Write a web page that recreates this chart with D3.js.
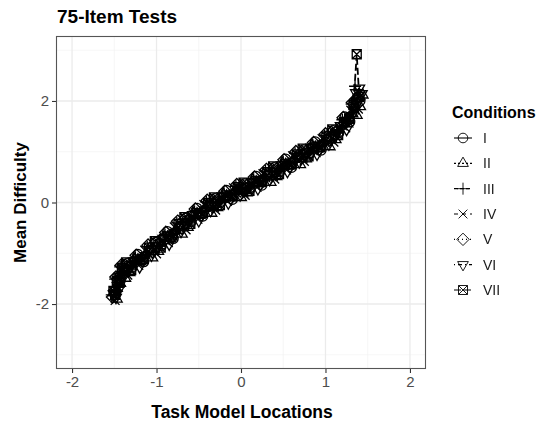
<!DOCTYPE html>
<html>
<head>
<meta charset="utf-8">
<script src="https://cdn.jsdelivr.net/npm/d3@7"></script>
<style>
  html, body { margin: 0; padding: 0; background: #fff; }
  svg { display: block; font-family: "Liberation Sans", Arial, Helvetica, sans-serif; }
  .key-label { filter: grayscale(100%); }
</style>
</head>
<body>
<svg id="chart" width="536" height="423"></svg>
<script>
// Task model locations for each condition
const locI = [-1.50,-1.48,-1.46,-1.43,-1.40,-1.35,-1.29,-1.22,-1.15,-1.08,
  -1.01,-0.94,-0.87,-0.80,-0.73,-0.66,-0.59,-0.52,-0.45,-0.38,
  -0.31,-0.24,-0.17,-0.10,-0.03,0.04,0.11,0.18,0.25,0.32,
  0.39,0.46,0.53,0.60,0.67,0.74,0.81,0.88,0.95,1.02,
  1.09,1.16,1.23,1.29,1.34,1.38,1.41];
const locII = [-1.47,-1.45,-1.43,-1.40,-1.37,-1.32,-1.26,-1.19,-1.12,-1.05,
  -0.98,-0.91,-0.84,-0.77,-0.70,-0.63,-0.56,-0.49,-0.42,-0.35,
  -0.28,-0.21,-0.14,-0.07,0.00,0.07,0.14,0.21,0.28,0.35,
  0.42,0.49,0.56,0.63,0.70,0.77,0.84,0.91,0.98,1.05,
  1.12,1.19,1.26,1.32,1.37,1.41,1.44];
const locIII = [-1.53,-1.51,-1.49,-1.46,-1.43,-1.38,-1.32,-1.25,-1.18,-1.11,
  -1.04,-0.97,-0.90,-0.83,-0.76,-0.69,-0.62,-0.55,-0.48,-0.41,
  -0.34,-0.27,-0.20,-0.13,-0.06,0.01,0.08,0.15,0.22,0.29,
  0.36,0.43,0.50,0.57,0.64,0.71,0.78,0.85,0.92,0.99,
  1.06,1.13,1.20,1.26,1.31,1.35,1.38];
const locIV = [-1.49,-1.47,-1.45,-1.42,-1.39,-1.34,-1.28,-1.21,-1.14,-1.07,
  -1.00,-0.93,-0.86,-0.79,-0.72,-0.65,-0.58,-0.51,-0.44,-0.37,
  -0.30,-0.23,-0.16,-0.09,-0.02,0.05,0.12,0.19,0.26,0.33,
  0.40,0.47,0.54,0.61,0.68,0.75,0.82,0.89,0.96,1.03,
  1.10,1.17,1.24,1.30,1.35,1.39,1.42];
const locV = [-1.52,-1.50,-1.48,-1.45,-1.42,-1.37,-1.31,-1.24,-1.17,-1.10,
  -1.03,-0.96,-0.89,-0.82,-0.75,-0.68,-0.61,-0.54,-0.47,-0.40,
  -0.33,-0.26,-0.19,-0.12,-0.05,0.02,0.09,0.16,0.23,0.30,
  0.37,0.44,0.51,0.58,0.65,0.72,0.79,0.86,0.93,1.00,
  1.07,1.14,1.21,1.27,1.32,1.36,1.39];
const locVI = [-1.48,-1.46,-1.44,-1.41,-1.38,-1.33,-1.27,-1.20,-1.13,-1.06,
  -0.99,-0.92,-0.85,-0.78,-0.71,-0.64,-0.57,-0.50,-0.43,-0.36,
  -0.29,-0.22,-0.15,-0.08,-0.01,0.06,0.13,0.20,0.27,0.34,
  0.41,0.48,0.55,0.62,0.69,0.76,0.83,0.90,0.97,1.04,
  1.11,1.18,1.25,1.31,1.36,1.40,1.43];
const locVII = [-1.51,-1.49,-1.47,-1.44,-1.41,-1.36,-1.30,-1.23,-1.16,-1.09,
  -1.02,-0.95,-0.88,-0.81,-0.74,-0.67,-0.60,-0.53,-0.46,-0.39,
  -0.32,-0.25,-0.18,-0.11,-0.04,0.03,0.10,0.17,0.24,0.31,
  0.38,0.45,0.52,0.59,0.66,0.73,0.80,0.87,0.94,1.01,
  1.08,1.15,1.22,1.28,1.33,1.37,1.40];

// Mean difficulty per condition at each of its locations
const meanI = [-1.76,-1.78,-1.45,-1.55,-1.34,-1.20,-1.29,-1.02,-1.17,-0.94,
  -0.78,-0.85,-0.57,-0.71,-0.47,-0.31,-0.38,-0.11,-0.27,-0.06,
  0.08,-0.01,0.24,0.06,0.25,0.37,0.27,0.52,0.34,0.55,
  0.69,0.60,0.86,0.69,0.90,1.04,0.95,1.20,1.03,1.25,
  1.42,1.37,1.69,1.59,1.87,2.07,2.00];
const meanII = [-1.90,-1.61,-1.59,-1.39,-1.49,-1.38,-1.12,-1.16,-1.01,-1.09,
  -0.96,-0.68,-0.71,-0.55,-0.62,-0.49,-0.21,-0.25,-0.11,-0.21,
  -0.10,0.16,0.10,0.22,0.10,0.19,0.44,0.38,0.50,0.40,
  0.51,0.77,0.72,0.85,0.75,0.86,1.12,1.06,1.19,1.10,
  1.24,1.54,1.55,1.75,1.72,1.89,2.12];
const meanIII = [-1.82,-1.84,-1.51,-1.48,-1.27,-1.28,-1.35,-1.08,-1.10,-0.87,
  -0.86,-0.91,-0.63,-0.64,-0.40,-0.39,-0.44,-0.17,-0.20,0.01,
  0.00,-0.07,0.18,0.13,0.32,0.29,0.21,0.46,0.41,0.62,
  0.61,0.54,0.80,0.76,0.97,0.96,0.89,1.14,1.10,1.32,
  1.34,1.31,1.63,1.66,1.94,2.29,1.99];
const meanIV = [-1.93,-1.68,-1.67,-1.32,-1.39,-1.43,-1.19,-1.24,-0.94,-0.99,
  -1.01,-0.75,-0.79,-0.48,-0.52,-0.54,-0.28,-0.33,-0.04,-0.11,
  -0.15,0.09,0.02,0.29,0.20,0.14,0.37,0.30,0.57,0.50,
  0.46,0.70,0.64,0.92,0.85,0.81,1.05,0.98,1.26,1.20,
  1.19,1.47,1.47,1.82,1.82,1.84,2.10];
const meanV = [-1.86,-1.74,-1.47,-1.52,-1.24,-1.24,-1.25,-1.04,-1.14,-0.84,
  -0.82,-0.81,-0.59,-0.68,-0.37,-0.35,-0.34,-0.13,-0.24,0.04,
  0.04,0.03,0.22,0.09,0.35,0.33,0.31,0.50,0.37,0.65,
  0.65,0.64,0.84,0.72,1.00,1.00,0.99,1.18,1.06,1.35,
  1.38,1.41,1.67,1.62,1.97,2.03,2.04];
const meanVI = [-1.87,-1.64,-1.70,-1.43,-1.44,-1.33,-1.15,-1.27,-1.05,-1.04,
  -0.91,-0.71,-0.82,-0.59,-0.57,-0.44,-0.24,-0.36,-0.15,-0.16,
  -0.05,0.13,-0.01,0.18,0.15,0.24,0.41,0.27,0.46,0.45,
  0.56,0.74,0.61,0.81,0.80,0.91,1.09,0.95,1.15,1.15,
  1.29,1.51,1.44,1.71,2.16,2.25,2.14];
const meanVII = [-1.74,-1.82,-1.55,-1.49,-1.29,-1.18,-1.33,-1.12,-1.11,-0.89,
  -0.76,-0.89,-0.67,-0.65,-0.42,-0.29,-0.42,-0.21,-0.21,-0.01,
  0.10,-0.05,0.14,0.12,0.30,0.39,0.23,0.42,0.40,0.60,
  0.71,0.56,0.76,0.75,0.95,1.06,0.91,1.10,1.09,1.30,
  1.44,1.33,1.59,1.65,1.92,2.92,2.08];

const conditions = ["I", "II", "III", "IV", "V", "VI", "VII"];
const seriesLocations = [locI, locII, locIII, locIV, locV, locVI, locVII];
const seriesValues = [meanI, meanII, meanIII, meanIV, meanV, meanVI, meanVII];

const xTicks = [-2, -1, 0, 1, 2];
const yTicks = [-2, 0, 2];
const xMinor = [-1.5, -0.5, 0.5, 1.5];
const yMinor = [-3, -1, 1, 3];

// Per-condition styling: open symbols and line dash patterns
const shapeNames = ["circle", "triangle", "plus", "cross", "diamond", "triangleDown", "squareCross"];
const dashes = [null, "2,2", "4,2", "4,4", "1,3", "1,3,4,3", "7,3"];

function symbolPath(name) {
  switch (name) {
    case "circle": {
      const r = 4.8;
      return `M${r},0A${r},${r},0,1,1,${-r},0A${r},${r},0,1,1,${r},0Z`;
    }
    case "triangle": {
      const r = 6.2;
      return `M0,${-r}L${r*0.866},${r*0.5}L${-r*0.866},${r*0.5}Z`;
    }
    case "triangleDown": {
      const r = 6.2;
      return `M0,${r}L${r*0.866},${-r*0.5}L${-r*0.866},${-r*0.5}Z`;
    }
    case "plus": {
      const s = 6;
      return `M${-s},0L${s},0M0,${-s}L0,${s}`;
    }
    case "cross": {
      const s = 4.4;
      return `M${-s},${-s}L${s},${s}M${-s},${s}L${s},${-s}`;
    }
    case "diamond": {
      const s = 6.2;
      return `M0,${-s}L${s},0L0,${s}L${-s},0Z`;
    }
    case "squareCross": {
      const s = 4.5;
      return `M${-s},${-s}L${s},${-s}L${s},${s}L${-s},${s}Z` +
             `M${-s},${-s}L${s},${s}M${-s},${s}L${s},${-s}`;
    }
  }
}

const svg = d3.select("#chart");
const panel = { left: 56, right: 426, top: 36, bottom: 369 };

const x = d3.scaleLinear().domain([-2.19, 2.19]).range([panel.left, panel.right]);
const y = d3.scaleLinear().domain([-3.28, 3.28]).range([panel.bottom, panel.top]);

// Panel background and grid
svg.append("rect").attr("x", panel.left).attr("y", panel.top)
  .attr("width", panel.right - panel.left).attr("height", panel.bottom - panel.top)
  .attr("fill", "#fff");

const grid = svg.append("g");
grid.selectAll(".xminor").data(xMinor).join("line")
  .attr("x1", d => x(d)).attr("x2", d => x(d))
  .attr("y1", panel.top).attr("y2", panel.bottom)
  .attr("stroke", "#f2f2f2").attr("stroke-width", 0.7);
grid.selectAll(".yminor").data(yMinor).join("line")
  .attr("y1", d => y(d)).attr("y2", d => y(d))
  .attr("x1", panel.left).attr("x2", panel.right)
  .attr("stroke", "#f2f2f2").attr("stroke-width", 0.7);
grid.selectAll(".xmajor").data(xTicks).join("line")
  .attr("x1", d => x(d)).attr("x2", d => x(d))
  .attr("y1", panel.top).attr("y2", panel.bottom)
  .attr("stroke", "#ebebeb").attr("stroke-width", 1.3);
grid.selectAll(".ymajor").data(yTicks).join("line")
  .attr("y1", d => y(d)).attr("y2", d => y(d))
  .attr("x1", panel.left).attr("x2", panel.right)
  .attr("stroke", "#ebebeb").attr("stroke-width", 1.3);

// Series
const series = conditions.map((c, i) => ({
  name: c,
  shape: shapeNames[i],
  dash: dashes[i],
  points: seriesLocations[i].map((loc, j) => ({ x: loc, y: seriesValues[i][j] }))
}));

const line = d3.line().x(d => x(d.x)).y(d => y(d.y));
const plot = svg.append("g");

plot.selectAll(".series-line").data(series).join("path")
  .attr("d", d => line(d.points))
  .attr("fill", "none").attr("stroke", "#000").attr("stroke-width", 1.8)
  .attr("stroke-dasharray", d => d.dash);

series.forEach(s => {
  plot.append("g").selectAll("path").data(s.points).join("path")
    .attr("transform", d => `translate(${x(d.x)},${y(d.y)})`)
    .attr("d", symbolPath(s.shape))
    .attr("fill", "none").attr("stroke", "#000").attr("stroke-width", 1.3);
});

// Panel border
svg.append("rect").attr("x", panel.left + 0.5).attr("y", panel.top + 0.5)
  .attr("width", panel.right - panel.left - 1).attr("height", panel.bottom - panel.top - 1)
  .attr("fill", "none").attr("stroke", "#555").attr("stroke-width", 1.1);

// Axes
const xAxis = svg.append("g").attr("transform", `translate(0,${panel.bottom})`)
  .call(d3.axisBottom(x).tickValues(xTicks).tickSize(4).tickPadding(3));
const yAxis = svg.append("g").attr("transform", `translate(${panel.left},0)`)
  .call(d3.axisLeft(y).tickValues(yTicks).tickSize(4).tickPadding(3));
[xAxis, yAxis].forEach(a => {
  a.select(".domain").remove();
  a.selectAll(".tick line").attr("stroke", "#333").attr("stroke-width", 1.1);
  a.selectAll(".tick text").attr("fill", "#4d4d4d").style("font-size", "15px")
    .style("font-family", "'Liberation Sans', Arial, sans-serif")
    .text(d => String(d));
});

// Titles
svg.append("text").attr("x", 57).attr("y", 23)
  .style("font-size", "19px").style("font-weight", "bold").text("75-Item Tests");

svg.append("text").attr("x", (panel.left + panel.right) / 2 + 1).attr("y", 418)
  .attr("text-anchor", "middle")
  .style("font-size", "17.5px").style("font-weight", "bold").text("Task Model Locations");

svg.append("text")
  .attr("transform", `translate(26,${(panel.top + panel.bottom) / 2}) rotate(-90)`)
  .attr("text-anchor", "middle")
  .style("font-size", "17px").style("font-weight", "bold").text("Mean Difficulty");

// Legend
const legend = svg.append("g");
legend.append("text").attr("x", 452).attr("y", 118)
  .style("font-size", "16px").style("font-weight", "bold").text("Conditions");

const keyY = d3.scalePoint().domain(conditions).range([138, 290]);
const keys = legend.selectAll(".key").data(series).join("g")
  .attr("transform", d => `translate(463,${keyY(d.name)})`);
keys.append("line").attr("x1", -9).attr("x2", 9)
  .attr("stroke", "#000").attr("stroke-width", 1.1)
  .attr("stroke-dasharray", d => d.dash);
keys.append("path").attr("d", d => symbolPath(d.shape))
  .attr("fill", "none").attr("stroke", "#000").attr("stroke-width", 0.9);
keys.append("text").attr("class", "key-label").attr("x", 20).attr("y", 5)
  .style("font-size", "14px").attr("fill", "#1a1a1a")
  .text(d => d.name);
</script>
</body>
</html>
